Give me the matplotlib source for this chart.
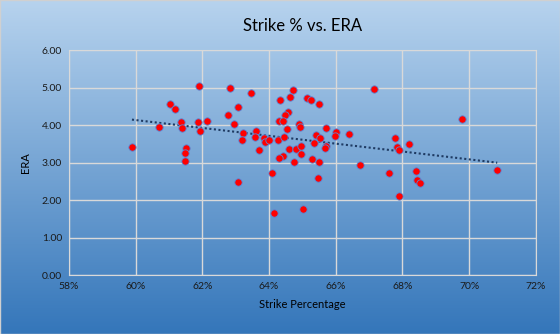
import matplotlib.pyplot as plt
import numpy as np
from matplotlib.ticker import FuncFormatter, MultipleLocator

strike_pct = [
    61.90, 62.83, 63.46, 61.03, 61.19, 63.07, 62.77, 61.36, 61.87, 62.14,
    62.95, 60.70, 61.39, 61.93, 63.22, 63.61, 63.19, 63.58, 59.89, 61.51,
    61.48, 61.48, 63.07, 64.72, 64.33, 64.63, 65.14, 65.27, 65.50, 67.15,
    64.58, 64.48, 64.30, 64.43, 64.90, 64.93, 64.54, 65.71, 66.01, 63.85,
    63.88, 64.00, 64.27, 64.45, 65.41, 65.53, 65.35, 65.98, 66.40, 65.71,
    65.68, 63.70, 64.60, 64.81, 64.96, 64.96, 64.42, 64.30, 64.75, 65.29,
    65.50, 66.73, 67.60, 64.09, 65.47, 67.78, 67.83, 67.90, 68.19, 67.90,
    64.15, 65.02, 69.79, 68.41, 68.44, 68.53, 70.84,
]
era = [
    5.05, 4.98, 4.85, 4.55, 4.44, 4.47, 4.26, 4.07, 4.07, 4.11,
    4.04, 3.94, 3.91, 3.83, 3.78, 3.83, 3.59, 3.67, 3.41, 3.38,
    3.25, 3.03, 2.47, 4.93, 4.66, 4.74, 4.71, 4.66, 4.55, 4.95,
    4.34, 4.28, 4.12, 4.10, 4.04, 3.94, 3.89, 3.91, 3.81, 3.65,
    3.54, 3.59, 3.59, 3.67, 3.73, 3.65, 3.51, 3.70, 3.75, 3.43,
    3.38, 3.33, 3.35, 3.35, 3.43, 3.22, 3.17, 3.11, 3.01, 3.09,
    3.01, 2.93, 2.71, 2.71, 2.58, 3.65, 3.41, 3.33, 3.49, 2.12,
    1.65, 1.75, 4.15, 2.77, 2.53, 2.45, 2.79,
]

x = np.array(strike_pct) / 100
y = np.array(era)

fig = plt.figure(figsize=(5.6, 3.34), dpi=100)
plt.rcParams["font.family"] = ["Lato", "DejaVu Sans"]

# gradient background over the whole figure
bg = fig.add_axes([0, 0, 1, 1], zorder=-1)
grad = np.linspace(0, 1, 256).reshape(-1, 1)
top = np.array([183, 211, 238]) / 255
bottom = np.array([52, 118, 186]) / 255
img = top + (bottom - top) * grad[:, :, None]
bg.imshow(img, aspect="auto", extent=[0, 1, 0, 1])
bg.set_axis_off()
fig.patches.append(plt.Rectangle((0, 0), 1, 1, transform=fig.transFigure,
                                 fill=False, edgecolor="#d0d0d0", lw=1))

ax = fig.add_axes([0.123, 0.1766, 0.834, 0.6734])
ax.set_facecolor("none")
ax.set_xlim(0.58, 0.72)
ax.set_ylim(0, 6)
ax.xaxis.set_major_locator(MultipleLocator(0.02))
ax.yaxis.set_major_locator(MultipleLocator(1))
ax.xaxis.set_major_formatter(FuncFormatter(lambda v, _: f"{v * 100:.0f}%"))
ax.yaxis.set_major_formatter(FuncFormatter(lambda v, _: f"{v:.2f}"))
ax.grid(True, color="#d9d9d9", lw=1)
ax.set_axisbelow(True)
for s in ax.spines.values():
    s.set_color("#d9d9d9")
ax.tick_params(length=0, labelsize=7.5, pad=5, labelcolor="#1a1a1a")

ax.scatter(x, y, s=28, color="#ff0000", edgecolors="#5a86d6", linewidths=0.6, zorder=3)

slope, icpt = np.polyfit(x, y, 1)
xs = np.array([x.min(), x.max()])
ax.plot(xs, slope * xs + icpt, color="#1f3b63", lw=1.5, ls=(0, (1, 1.2)), zorder=2)

ax.set_title("Strike % vs. ERA", fontsize=12, pad=14)
ax.set_xlabel("Strike Percentage", fontsize=8, labelpad=6)
ax.set_ylabel("ERA", fontsize=8, labelpad=8)

fig.savefig("out.png", dpi=100)
